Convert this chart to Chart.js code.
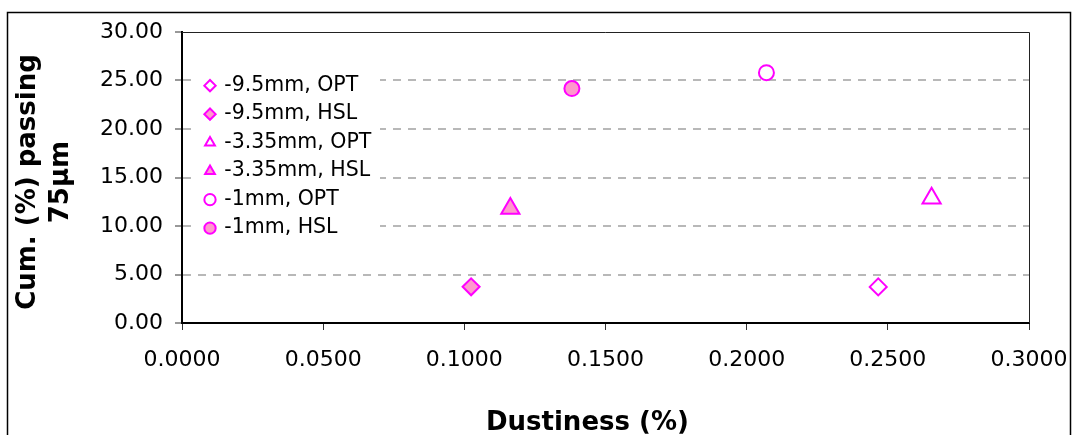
<!DOCTYPE html>
<html>
<head>
<meta charset="utf-8">
<script src="https://cdn.jsdelivr.net/npm/chart.js@4.4.1/dist/chart.umd.min.js"></script>
<style>
html,body{margin:0;padding:0;background:#fff;}
#wrap{width:1072px;height:435px;position:relative;overflow:hidden;}
canvas{display:block;}
</style>
</head>
<body>
<div id="wrap"><canvas id="c" width="1072" height="435"></canvas></div>
<script>
// ---- data ----
const seriesNames = ['-9.5mm, OPT', '-9.5mm, HSL', '-3.35mm, OPT', '-3.35mm, HSL', '-1mm, OPT', '-1mm, HSL'];
const dustiness   = [0.2466, 0.1024, 0.2655, 0.1163, 0.2070, 0.1381];
const passing75   = [3.72, 3.73, 12.85, 11.8, 25.81, 24.17];
const xTickLabels = ['0.0000', '0.0500', '0.1000', '0.1500', '0.2000', '0.2500', '0.3000'];
const yTickLabels = ['0.00', '5.00', '10.00', '15.00', '20.00', '25.00', '30.00'];
const xTitle = 'Dustiness (%)';
const yTitle = ['Cum. (%) passing', '75µm'];

Chart.defaults.font.family = 'DejaVu Sans, Verdana, sans-serif';
Chart.defaults.color = '#000';

const shapes = ['rectRot', 'triangle', 'circle'];
const radii = { rectRot: 8.5, triangle: 10.5, circle: 7.5 };

const datasets = seriesNames.map((name, i) => {
  const shape = shapes[Math.floor(i / 2)];
  const filled = i % 2 === 1;
  return {
    label: name,
    data: [{ x: dustiness[i], y: passing75[i] }],
    pointStyle: shape,
    pointRadius: radii[shape],
    pointHoverRadius: radii[shape],
    pointBorderWidth: 2,
    borderColor: '#FF00FF',
    backgroundColor: filled ? '#FF99CC' : '#FFFFFF',
    pointBorderColor: '#FF00FF',
    pointBackgroundColor: filled ? '#FF99CC' : '#FFFFFF',
    showLine: false,
    clip: false
  };
});

const framePlugin = {
  id: 'frame',
  beforeDraw(chart) {
    const c = chart.ctx;
    c.save();
    c.fillStyle = '#fff';
    c.fillRect(0, 0, chart.width, chart.height);
    c.restore();
  },
  afterLayout(chart) {
    const lg = chart.legend;
    const ca = chart.chartArea;
    if (!lg) return;
    lg.left = ca.left + 16;
    lg.top = ca.top + 35.4;
    lg.bottom = chart.height;
    if (!lg._patched) {
      const orig = lg.draw;
      lg.draw = function () {
        const c = this.ctx;
        c.save();
        c.fillStyle = '#fff';
        c.fillRect(this.left - 6, this.top + 2, 188, 170);
        c.restore();
        orig.apply(this, arguments);
      };
      lg._patched = true;
    }
  },
  afterDraw(chart) {
    const c = chart.ctx;
    const ca = chart.chartArea;
    c.save();
    c.strokeStyle = '#222';
    c.lineWidth = 1;
    c.beginPath();
    c.moveTo(ca.left, Math.round(ca.top) + 0.5);
    c.lineTo(Math.round(ca.right) + 0.5, Math.round(ca.top) + 0.5);
    c.lineTo(Math.round(ca.right) + 0.5, ca.bottom);
    c.stroke();
    // outer chart frame
    c.strokeStyle = '#000';
    c.lineWidth = 1.5;
    c.strokeRect(7.5, 12.5, chart.width - 9, chart.height + 20);
    c.restore();
  }
};

new Chart(document.getElementById('c'), {
  type: 'scatter',
  data: { datasets },
  plugins: [framePlugin],
  options: {
    responsive: false,
    animation: false,
    devicePixelRatio: 1,
    layout: { padding: { top: 32, right: 43, bottom: 0, left: 0 } },
    plugins: {
      tooltip: { enabled: false },
      legend: {
        position: 'chartArea',
        align: 'start',
        labels: {
          usePointStyle: true,
          boxWidth: 8,
          boxHeight: 8,
          padding: 8,
          color: '#000',
          font: { size: 20.5, family: 'DejaVu Sans' }
        }
      }
    },
    scales: {
      x: {
        type: 'linear',
        min: 0,
        max: 0.3,
        ticks: {
          stepSize: 0.05,
          padding: 17,
          maxRotation: 0,
          autoSkip: false,
          color: '#000',
          font: { size: 22 },
          callback: (v, i) => xTickLabels[i] !== undefined ? xTickLabels[i] : Number(v).toFixed(4)
        },
        grid: {
          drawOnChartArea: false,
          drawTicks: true,
          tickLength: 7,
          tickColor: '#333',
          tickWidth: 1
        },
        border: { display: true, color: '#000', width: 2 },
        title: {
          display: true,
          text: xTitle + '    ',
          color: '#000',
          font: { size: 26, weight: 'bold', lineHeight: 0.9 },
          padding: { top: 0, bottom: 0 }
        },
        afterFit(scale) {
          scale.height = 112;
          scale.paddingLeft = 0;
          scale.paddingRight = 0;
        }
      },
      y: {
        type: 'linear',
        min: 0,
        max: 30,
        ticks: {
          stepSize: 5,
          padding: 12,
          color: '#000',
          font: { size: 22 },
          callback: (v, i) => yTickLabels[i] !== undefined ? yTickLabels[i] : Number(v).toFixed(2)
        },
        grid: {
          color: (ctx) => (ctx.tick && (ctx.tick.value === 0 || ctx.tick.value === 30)) ? 'rgba(0,0,0,0)' : '#b8b8b8',
          lineWidth: 2,
          drawTicks: true,
          tickLength: 7,
          tickColor: '#333',
          tickWidth: 1,
          tickBorderDash: []
        },
        border: { display: true, color: '#000', width: 2, dash: [8, 7] },
        title: {
          display: true,
          text: yTitle.map(t => t + ' '),
          color: '#000',
          font: { size: 26, weight: 'bold', lineHeight: 1.25 },
          padding: { top: 12, bottom: 0 }
        },
        afterFit(scale) {
          scale.width = 182;
          scale.paddingTop = 0;
          scale.paddingBottom = 0;
        }
      }
    }
  }
});
</script>
</body>
</html>
